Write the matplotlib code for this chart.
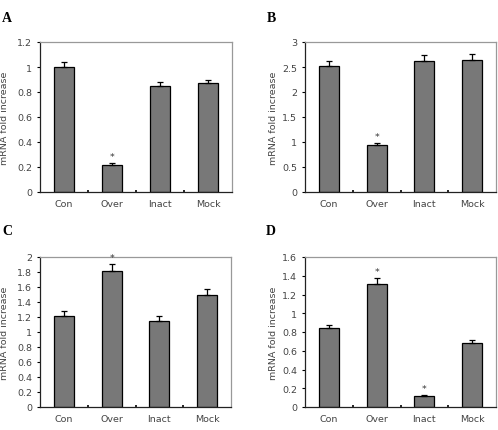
import matplotlib
matplotlib.use("Agg")
import matplotlib.pyplot as plt
import numpy as np

categories = ["Con", "Over", "Inact", "Mock"]

vals_A = [1.00, 0.22, 0.85, 0.87]
err_A = [0.04, 0.01, 0.03, 0.03]
star_A = [False, True, False, False]

vals_B = [2.53, 0.95, 2.62, 2.64]
err_B = [0.10, 0.03, 0.12, 0.12]
star_B = [False, True, False, False]

vals_C = [1.21, 1.81, 1.15, 1.50]
err_C = [0.07, 0.10, 0.06, 0.08]
star_C = [False, True, False, False]

vals_D = [0.84, 1.31, 0.12, 0.68]
err_D = [0.04, 0.07, 0.01, 0.03]
star_D = [False, True, True, False]

yticks_A = [0, 0.2, 0.4, 0.6, 0.8, 1, 1.2]
yticks_B = [0, 0.5, 1, 1.5, 2, 2.5, 3]
yticks_C = [0, 0.2, 0.4, 0.6, 0.8, 1, 1.2, 1.4, 1.6, 1.8, 2]
yticks_D = [0, 0.2, 0.4, 0.6, 0.8, 1, 1.2, 1.4, 1.6]

W, H = 498, 431
fig = plt.figure(figsize=(W / 100, H / 100), dpi=100)

txtcol = "#444444"
fs = 6.8

def pos(l, r, t, b):
    return [l / W, 1 - b / H, (r - l) / W, (b - t) / H]

panels = [
    ("A", vals_A, err_A, star_A, yticks_A, pos(40, 232, 43, 193), (7, 18), (5, 118)),
    ("B", vals_B, err_B, star_B, yticks_B, pos(305, 496, 43, 193), (271, 18), (273, 118)),
    ("C", vals_C, err_C, star_C, yticks_C, pos(40, 231, 258, 408), (7, 232), (5, 333)),
    ("D", vals_D, err_D, star_D, yticks_D, pos(305, 496, 258, 408), (271, 232), (273, 333)),
]

for letter, vals, errs, stars, yt, rect, lpos, ylpos in panels:
    ax = fig.add_axes(rect)
    x = np.arange(len(categories))
    ax.bar(x, vals, width=0.42, color="#787878", edgecolor="black", linewidth=0.9, zorder=2)
    ax.errorbar(x, vals, yerr=[np.zeros(len(errs)), errs], fmt="none",
                ecolor="black", elinewidth=0.9, capsize=2.5, capthick=0.9, zorder=3)
    ymax = yt[-1]
    for xi, v, e, s in zip(x, vals, errs, stars):
        if s:
            ax.text(xi, v + e + ymax * 0.012, "*", ha="center", va="bottom",
                    fontsize=6.8, color="#333333")
    ax.set_xlim(-0.5, 3.5)
    ax.set_ylim(0, ymax)
    ax.set_yticks(yt)
    ax.set_yticklabels([f"{t:g}" for t in yt], fontsize=fs, color=txtcol)
    ax.set_xticks(x)
    ax.set_xticklabels(categories, fontsize=fs, color=txtcol)
    ax.tick_params(axis="x", length=0, pad=5)
    ax.set_xticks([0.5, 1.5, 2.5], minor=True)
    ax.tick_params(axis="x", which="minor", length=1.5, direction="in", width=1.2)
    ax.tick_params(axis="y", length=2.5, width=0.8, direction="out", pad=3)
    for sp in ["left", "bottom"]:
        ax.spines[sp].set_color("#222222")
        ax.spines[sp].set_linewidth(0.9)
    for sp in ["top", "right"]:
        ax.spines[sp].set_color("#999999")
        ax.spines[sp].set_linewidth(0.9)
    fig.text(ylpos[0] / W, 1 - ylpos[1] / H, "mRNA fold increase", rotation=90,
             ha="center", va="center", fontsize=fs, color=txtcol)
    fig.text(lpos[0] / W, 1 - lpos[1] / H, letter, ha="center", va="center",
             fontsize=10, fontweight="bold", family="Liberation Serif", color="black")

fig.savefig("out.png", dpi=100)
